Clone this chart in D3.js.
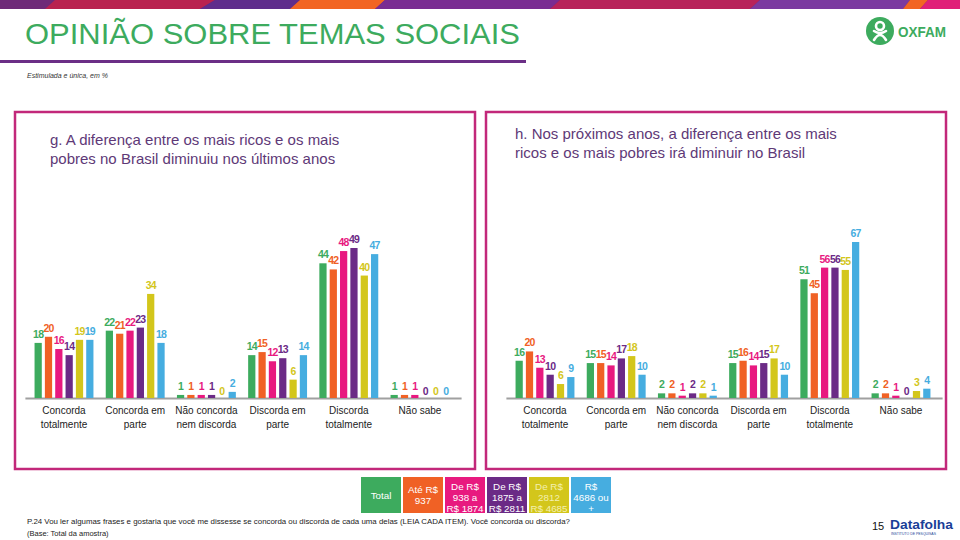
<!DOCTYPE html>
<html><head><meta charset="utf-8">
<script src="https://cdn.jsdelivr.net/npm/d3@7"></script>
<style>
html,body{margin:0;padding:0;background:#fff;}
svg{display:block;font-family:"Liberation Sans",Arial,sans-serif;}
</style></head>
<body><svg id="c" width="960" height="540"></svg>
<script>
const categories = [["Concorda","totalmente"],["Concorda em","parte"],["Não concorda","nem discorda"],["Discorda em","parte"],["Discorda","totalmente"],["Não sabe"]];
const seriesNames = ["Total","Até R$ 937","De R$ 938 a R$ 1874","De R$ 1875 a R$ 2811","De R$ 2812 a R$ 4685","R$ 4686 ou +"];
const seriesLegend = [["Total"],["Até R$","937"],["De R$","938 a","R$ 1874"],["De R$","1875 a","R$ 2811"],["De R$","2812","R$ 4685"],["R$","4686 ou","+"]];
const seriesColors = ["#3dab5e","#f06125","#e8197f","#6b2a86","#d3c61b","#46ade0"];
// values per category, per series
const valuesG = [[18,20,16,14,19,19],[22,21,22,23,34,18],[1,1,1,1,0,2],[14,15,12,13,6,14],[44,42,48,49,40,47],[1,1,1,0,0,0]];
const valuesH = [[16,20,13,10,6,9],[15,15,14,17,18,10],[2,2,1,2,2,1],[15,16,14,15,17,10],[51,45,56,56,55,67],[2,2,1,0,3,4]];
const titleG = ["g. A diferença entre os mais ricos e os mais","pobres no Brasil diminuiu nos últimos anos"];
const titleH = ["h. Nos próximos anos, a diferença entre os mais","ricos e os mais pobres irá diminuir no Brasil"];

const svg = d3.select("#c");

// top decorative stripe
const stripe = [
  {c:"#6e2a78",p:[[0,0],[960,0],[960,9],[0,9]]},
  {c:"#b9224f",p:[[55,0],[215,0],[200,9],[45,9]]},
  {c:"#5f2d8c",p:[[215,0],[300,0],[290,9],[200,9]]},
  {c:"#f26522",p:[[300,0],[385,0],[375,9],[290,9]]},
  {c:"#7a2c92",p:[[385,0],[560,0],[550,9],[375,9]]},
  {c:"#b8235a",p:[[560,0],[760,0],[750,9],[550,9]]},
  {c:"#7b3aa0",p:[[760,0],[910,0],[903,9],[750,9]]},
  {c:"#f26522",p:[[910,0],[928,0],[920,9],[903,9]]},
  {c:"#e01f78",p:[[928,0],[960,0],[960,9],[920,9]]}
];
svg.selectAll("polygon.st").data(stripe).join("polygon").attr("class","st")
  .attr("points",d=>d.p.map(q=>q.join(",")).join(" ")).attr("fill",d=>d.c);

// title
svg.append("text").attr("x",25).attr("y",44).attr("fill","#3dab5e")
  .attr("font-size",29).attr("textLength",495).attr("lengthAdjust","spacingAndGlyphs")
  .text("OPINIÃO SOBRE TEMAS SOCIAIS");
svg.append("rect").attr("x",0).attr("y",60).attr("width",526).attr("height",3).attr("fill","#6b2f86");
svg.append("text").attr("x",27).attr("y",78).attr("font-size",7).attr("font-style","italic").attr("fill","#333")
  .text("Estimulada e única, em %");

// oxfam logo
const lg = svg.append("g");
lg.append("circle").attr("cx",880).attr("cy",31).attr("r",14).attr("fill","#3dab5e");
lg.append("circle").attr("cx",880).attr("cy",26).attr("r",4).attr("fill","none").attr("stroke","#fff").attr("stroke-width",2.6);
lg.append("path").attr("d","M874,40 Q880,30 886,40 M874,31 Q880,35 886,31").attr("stroke","#fff").attr("stroke-width",2.6).attr("fill","none").attr("stroke-linecap","round");
lg.append("text").attr("x",898).attr("y",37).attr("font-size",15).attr("font-weight","bold").attr("fill","#3dab5e")
  .attr("textLength",48).attr("lengthAdjust","spacingAndGlyphs").text("OXFAM");

function panel(x0, values, title, titleX, titleY, yMax, hMax, bandRange) {
  const g = svg.append("g");
  g.append("rect").attr("x",x0).attr("y",112).attr("width",460).attr("height",357)
    .attr("fill","none").attr("stroke","#c2287a").attr("stroke-width",2.5);
  g.selectAll("text.pt").data(title).join("text").attr("class","pt")
    .attr("x",titleX).attr("y",(d,i)=>titleY+i*19).attr("font-size",15).attr("fill","#5e3977").text(d=>d);
  const base = 398;
  const x = d3.scaleBand().domain(d3.range(categories.length)).range(bandRange);
  const xi = d3.scaleBand().domain(d3.range(seriesNames.length)).range([4.6, x.bandwidth()-4.6]).paddingInner(0.3).paddingOuter(0.15);
  const y = d3.scaleLinear().domain([0,yMax]).range([0,hMax]);
  g.append("line").attr("x1",bandRange[0]-3).attr("x2",bandRange[1]+6).attr("y1",base+0.5).attr("y2",base+0.5)
    .attr("stroke","#a0a0a0").attr("stroke-width",2);
  const grp = g.selectAll("g.grp").data(values).join("g").attr("class","grp")
    .attr("transform",(d,i)=>`translate(${x(i)},0)`);
  grp.selectAll("rect").data(d=>d).join("rect")
    .attr("x",(d,j)=>xi(j)).attr("width",xi.bandwidth())
    .attr("y",d=>base-y(d)).attr("height",d=>y(d)).attr("fill",(d,j)=>seriesColors[j]);
  grp.selectAll("text").data(d=>d).join("text")
    .attr("x",(d,j)=>xi(j)+xi.bandwidth()/2).attr("y",d=>base-y(d)-(d===0?3:5))
    .attr("text-anchor","middle").attr("font-size",10.5).attr("font-weight","bold")
    .attr("letter-spacing",-0.8)
    .attr("fill",(d,j)=>seriesColors[j]).text(d=>d);
  const cl = g.selectAll("text.cat").data(categories).join("text").attr("class","cat")
    .attr("x",(d,i)=>x(i)+x.bandwidth()/2).attr("y",414).attr("text-anchor","middle")
    .attr("font-size",10).attr("fill","#222");
  cl.selectAll("tspan").data(d=>d).join("tspan").attr("x",function(){return this.parentNode.getAttribute("x");})
    .attr("dy",(d,i)=>i?13.5:0).text(d=>d);
}
panel(15, valuesG, titleG, 50, 145, 49, 150, [28.4, 455.6]);
panel(486, valuesH, titleH, 515, 139, 67, 156, [509.4, 936.6]);

// legend
const leg = svg.append("g");
const lgItems = leg.selectAll("g").data(seriesLegend).join("g")
  .attr("transform",(d,i)=>`translate(${361+i*42},477)`);
lgItems.append("rect").attr("width",40).attr("height",36).attr("fill",(d,i)=>seriesColors[i]);
lgItems.each(function(d,i){
  const n = d.length;
  const start = n===1?22:(n===2?16:12.5);
  d3.select(this).selectAll("text").data(d).join("text")
    .attr("x",20).attr("y",(t,k)=>start+k*11).attr("text-anchor","middle")
    .attr("font-size",9.8).attr("fill",i===4?"#f4f0b0":"#fff").text(t=>t);
});

// footer
svg.append("text").attr("x",27).attr("y",524).attr("font-size",7.5).attr("fill","#222")
  .attr("textLength",543).attr("lengthAdjust","spacingAndGlyphs")
  .text("P.24 Vou ler algumas frases e gostaria que você me dissesse se concorda ou discorda de cada uma delas  (LEIA CADA ITEM). Você concorda ou discorda?");
svg.append("text").attr("x",27).attr("y",536).attr("font-size",7.5).attr("fill","#222")
  .text("(Base: Total da amostra)");
svg.append("text").attr("x",872).attr("y",530).attr("font-size",11).attr("fill","#111").text("15");
svg.append("text").attr("x",890).attr("y",529).attr("font-size",12.5).attr("font-weight","bold").attr("fill","#1b3f98")
  .attr("textLength",63).attr("lengthAdjust","spacingAndGlyphs").text("Datafolha");
svg.append("text").attr("x",891).attr("y",535).attr("font-size",3.5).attr("fill","#1b3f98")
  .attr("textLength",45).attr("lengthAdjust","spacingAndGlyphs").text("INSTITUTO DE PESQUISAS");
</script></body></html>
